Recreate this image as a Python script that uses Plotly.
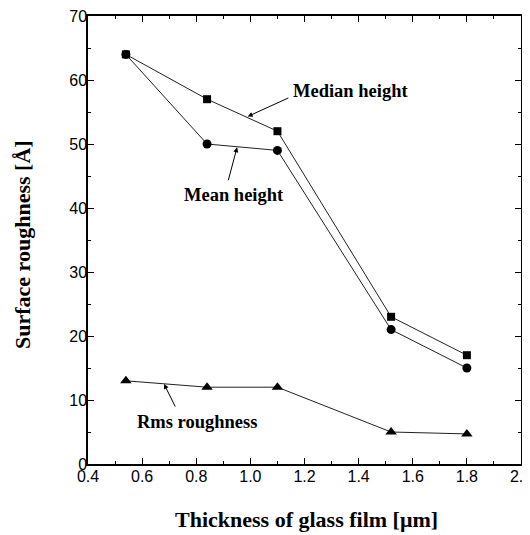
import plotly.graph_objects as go

thickness = [0.54, 0.84, 1.10, 1.52, 1.80]
median_height = [64, 57, 52, 23, 17]
mean_height = [64, 50, 49, 21, 15]
rms_roughness = [13, 12, 12, 5, 4.7]

fig = go.Figure()
line = dict(color="#222", width=1)
fig.add_trace(go.Scatter(x=thickness, y=median_height, mode="lines+markers",
                         line=line, marker=dict(symbol="square", size=8, color="black")))
fig.add_trace(go.Scatter(x=thickness, y=mean_height, mode="lines+markers",
                         line=line, marker=dict(symbol="circle", size=9, color="black")))
fig.add_trace(go.Scatter(x=thickness, y=rms_roughness, mode="lines+markers",
                         line=line, marker=dict(symbol="triangle-up", size=10, color="black")))

# page offset of the body margin (8px) compensated in the layout
OFF = 8
W, H = 530 - OFF, 535 - OFF
L, T = 88 - OFF, 16 - OFF
pw, ph = 433, 448
R, B = W - L - pw, H - T - ph

tfont = dict(family="Liberation Serif", size=18.5, color="black")
titlefont = dict(family="Liberation Serif", size=22, color="black")
anns = [
    dict(x=1.37, y=58.3, text="<b>Median height</b>", showarrow=False, font=tfont),
    dict(x=0.94, y=42.0, text="<b>Mean height</b>", showarrow=False, font=tfont),
    dict(x=0.803, y=6.6, text="<b>Rms roughness</b>", showarrow=False, font=tfont),
    dict(x=0.99, y=54.3, ax=1.146, ay=57.3, axref="x", ayref="y", xref="x", yref="y",
         text="", showarrow=True, arrowhead=2, arrowsize=1, arrowwidth=1, arrowcolor="black"),
    dict(x=0.951, y=49.5, ax=0.917, ay=44.1, axref="x", ayref="y", xref="x", yref="y",
         text="", showarrow=True, arrowhead=2, arrowsize=1, arrowwidth=1, arrowcolor="black"),
    dict(x=0.681, y=12.5, ax=0.725, ay=8.75, axref="x", ayref="y", xref="x", yref="y",
         text="", showarrow=True, arrowhead=2, arrowsize=1, arrowwidth=1, arrowcolor="black"),
]
# axis titles placed by page pixel position
for px, py, txt, ang in [(306, 519, "<b>Thickness of glass film [μm]</b>", 0),
                         (22, 245, "<b>Surface roughness [Å]</b>", -90)]:
    anns.append(dict(x=(px - OFF - L) / pw, y=(H - (py - OFF) - B) / ph,
                     xref="paper", yref="paper", text=txt, showarrow=False,
                     font=titlefont, textangle=ang, xanchor="center", yanchor="middle"))

axis_common = dict(showline=True, linecolor="black", linewidth=1.5,
                   ticks="inside", ticklen=6, tickwidth=1.2, tickcolor="black",
                   showgrid=False, zeroline=False, automargin=False,
                   ticklabeloverflow="allow",
                   tickfont=dict(family="Liberation Sans", size=16, color="black"))

fig.update_layout(
    xaxis=dict(range=[0.4, 2.0], dtick=0.2, tickformat=".1f", ticklabelstandoff=-3,
               minor=dict(dtick=0.1, ticks="inside", ticklen=3, tickcolor="black"),
               **axis_common),
    yaxis=dict(range=[0, 70], dtick=10, ticklabelstandoff=-4,
               minor=dict(dtick=5, ticks="inside", ticklen=3, tickcolor="black"),
               **axis_common),
    xaxis2=dict(range=[0.4, 2.0], dtick=0.2, overlaying="x", side="top", showticklabels=False,
                minor=dict(dtick=0.1, ticks="inside", ticklen=3, tickcolor="black"),
                **axis_common),
    yaxis2=dict(range=[0, 70], dtick=10, overlaying="y", side="right", showticklabels=False,
                minor=dict(dtick=5, ticks="inside", ticklen=3, tickcolor="black"),
                **axis_common),
    width=W, height=H, margin=dict(l=L, r=R, t=T, b=B),
    plot_bgcolor="white", paper_bgcolor="white", showlegend=False,
    annotations=anns)
# invisible trace to activate secondary axes
fig.add_trace(go.Scatter(x=[thickness[0]], y=[median_height[0]], xaxis="x2", yaxis="y2",
                         mode="markers", marker=dict(opacity=0), hoverinfo="skip"))
fig.write_html("out.html")
